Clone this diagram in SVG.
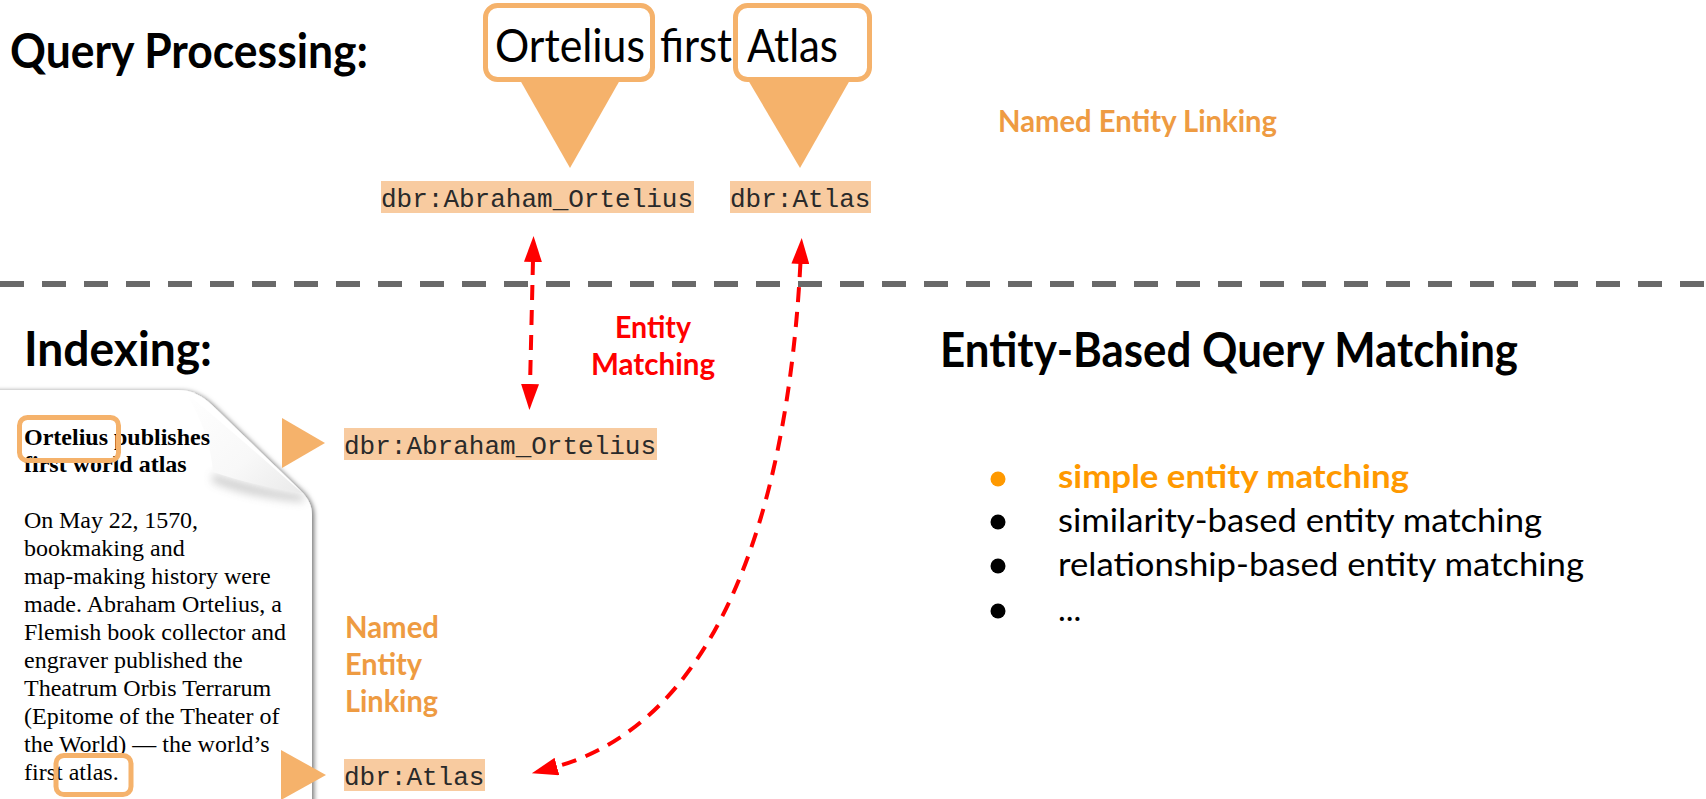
<svg xmlns="http://www.w3.org/2000/svg" width="1706" height="799" viewBox="0 0 1706 799">
  <defs>
    <style>
      .head{font-family:Lato,"Open Sans",sans-serif;font-weight:700;font-size:47px;fill:#000}
      .query{font-family:Lato,"Open Sans",sans-serif;font-size:46px;fill:#000}
      .nel{font-family:Lato,"Open Sans",sans-serif;font-weight:700;font-size:30px;fill:#EE9B42}
      .em{font-family:Lato,"Open Sans",sans-serif;font-weight:700;font-size:31px;fill:#FF0000}
      .item{font-family:Lato,"Open Sans",sans-serif;font-size:33px;fill:#000}
      .item.on{font-weight:700;fill:#FF9900}
      .uri{font-family:"Liberation Mono","Courier New",monospace;font-size:26px;fill:#2a2a2a}
      .uribg{fill:#F8CBA0}
      .pin{fill:#F5B26B}
      .hl{fill:none;stroke:#F5B26B;stroke-width:5}
      .qbox{fill:#fff;stroke:#F5B26B;stroke-width:5}
      .doc{font-family:"Liberation Serif","Times New Roman",serif;font-size:24px;fill:#000}
      .doc.title{font-weight:700}
      .link{fill:none;stroke:#FF0000;stroke-width:4;stroke-dasharray:15 10}
      .sep{stroke:#696969;stroke-width:6;stroke-dasharray:24 18}
    </style>
    <marker id="ah" viewBox="0 0 26 18" markerUnits="userSpaceOnUse" markerWidth="26" markerHeight="18" refX="2" refY="9" orient="auto-start-reverse">
      <path d="M0,0 L26,9 L0,18 Z" fill="#FF0000"/>
    </marker>
    <filter id="paperShadow" x="-10%" y="-10%" width="130%" height="130%">
      <feDropShadow dx="2" dy="1" stdDeviation="2.5" flood-color="#000" flood-opacity="0.55"/>
    </filter>
    <filter id="soft" x="-20%" y="-20%" width="140%" height="160%">
      <feGaussianBlur stdDeviation="4"/>
    </filter>
    <linearGradient id="flapGrad" x1="0" y1="0" x2="1" y2="1">
      <stop offset="0" stop-color="#ffffff"/>
      <stop offset="0.6" stop-color="#f8f8f8"/>
      <stop offset="1" stop-color="#eaeaea"/>
    </linearGradient>
  </defs>

  <rect width="1706" height="799" fill="#fff"/>

  <!-- section headings -->
  <text id="query-processing" class="head" x="10" y="68" textLength="358" lengthAdjust="spacingAndGlyphs">Query Processing:</text>
  <text id="indexing" class="head" x="24" y="366" textLength="188" lengthAdjust="spacingAndGlyphs">Indexing:</text>

  <!-- query with highlighted entity mentions -->
  <g id="query">
    <path class="pin" d="M520,80 L620,80 L570,168 Z"/>
    <path class="pin" d="M748,80 L850,80 L800,168 Z"/>
    <rect class="qbox" x="485.5" y="5.5" width="167" height="74" rx="12"/>
    <rect class="qbox" x="735.5" y="5.5" width="134" height="74" rx="12"/>
    <text class="query" x="495" y="62" textLength="150" lengthAdjust="spacingAndGlyphs">Ortelius</text>
    <text class="query" x="660" y="62" textLength="72" lengthAdjust="spacingAndGlyphs">first</text>
    <text class="query" x="747" y="62" textLength="91" lengthAdjust="spacingAndGlyphs">Atlas</text>
  </g>

  <g id="query-entity-ortelius">
    <rect class="uribg" x="381" y="181" width="313" height="32"/>
    <text class="uri" x="381" y="207">dbr:Abraham_Ortelius</text>
  </g>
  <g id="query-entity-atlas">
    <rect class="uribg" x="730" y="181" width="141" height="32"/>
    <text class="uri" x="730" y="207">dbr:Atlas</text>
  </g>

  <text id="nel-query" class="nel" x="998" y="132" textLength="279" lengthAdjust="spacingAndGlyphs">Named Entity Linking</text>

  <!-- indexed document with page curl -->
  <g id="document">
    <path d="M-20,390 L178,390 C192,390 202,396 212,405 L300,490 C309,499 312,506 312,516 L312,830 L-20,830 Z" fill="#fff" filter="url(#paperShadow)"/>
    <path d="M213,473 C240,482 272,490 303,494 L304,502 C272,500 240,494 212,482 Z" fill="#9a9a9a" filter="url(#soft)" opacity="0.45"/>
    <path d="M184,391 C228,428 266,461 302,493 C272,489 240,481 213,472 C211,445 202,418 184,391 Z" fill="url(#flapGrad)"/>
    <text class="doc title" x="24" y="445">Ortelius publishes</text>
    <text class="doc title" x="24" y="472">first world atlas</text>
    <text class="doc" x="24" y="528" textLength="174">On May 22, 1570,</text>
    <text class="doc" x="24" y="556">bookmaking and</text>
    <text class="doc" x="24" y="584">map-making history were</text>
    <text class="doc" x="24" y="612">made. Abraham Ortelius, a</text>
    <text class="doc" x="24" y="640">Flemish book collector and</text>
    <text class="doc" x="24" y="668">engraver published the</text>
    <text class="doc" x="24" y="696">Theatrum Orbis Terrarum</text>
    <text class="doc" x="24" y="724">(Epitome of the Theater of</text>
    <text class="doc" x="24" y="752">the World) — the world’s</text>
    <text class="doc" x="24" y="780">first atlas.</text>
    <rect class="hl" x="19.5" y="417.5" width="99" height="43" rx="8"/>
    <rect class="hl" x="56" y="755.5" width="75" height="39" rx="8"/>
  </g>

  <g id="doc-entity-ortelius">
    <path class="pin" d="M282,418 L325,443 L282,468 Z"/>
    <rect class="uribg" x="344" y="428" width="313" height="32"/>
    <text class="uri" x="344" y="454">dbr:Abraham_Ortelius</text>
  </g>
  <g id="doc-entity-atlas">
    <path class="pin" d="M281,750 L326,775 L281,800 Z"/>
    <rect class="uribg" x="344" y="759" width="141" height="32"/>
    <text class="uri" x="344" y="785">dbr:Atlas</text>
  </g>

  <g id="nel-doc" class="nel">
    <text x="345" y="638" textLength="94" lengthAdjust="spacingAndGlyphs">Named</text>
    <text x="345" y="675" textLength="77" lengthAdjust="spacingAndGlyphs">Entity</text>
    <text x="345" y="712" textLength="93" lengthAdjust="spacingAndGlyphs">Linking</text>
  </g>

  <g id="entity-matching-label" class="em" text-anchor="middle">
    <text x="653" y="338" textLength="76" lengthAdjust="spacingAndGlyphs">Entity</text>
    <text x="653" y="375" textLength="124" lengthAdjust="spacingAndGlyphs">Matching</text>
  </g>

  <!-- right-hand summary -->
  <g id="matching-methods">
    <text class="head" x="940" y="367" textLength="578" lengthAdjust="spacingAndGlyphs">Entity-Based Query Matching</text>
    <circle cx="998" cy="479" r="7.5" fill="#FF9900"/>
    <circle cx="998" cy="522" r="7.5" fill="#000"/>
    <circle cx="998" cy="566" r="7.5" fill="#000"/>
    <circle cx="998" cy="611" r="7.5" fill="#000"/>
    <text class="item on" x="1058" y="488" textLength="351" lengthAdjust="spacingAndGlyphs">simple entity matching</text>
    <text class="item" x="1058" y="532" textLength="484" lengthAdjust="spacingAndGlyphs">similarity-based entity matching</text>
    <text class="item" x="1058" y="576" textLength="526" lengthAdjust="spacingAndGlyphs">relationship-based entity matching</text>
    <text class="item" x="1058" y="621">...</text>
  </g>

  <!-- separator and connectors -->
  <g id="connectors">
    <line class="sep" x1="0" y1="284" x2="1706" y2="284"/>
    <path class="link" d="M533,260 L530,386" marker-start="url(#ah)" marker-end="url(#ah)"/>
    <path class="link" d="M800.5,262 C787,525 712,724 555,767" marker-start="url(#ah)" marker-end="url(#ah)"/>
  </g>
</svg>
